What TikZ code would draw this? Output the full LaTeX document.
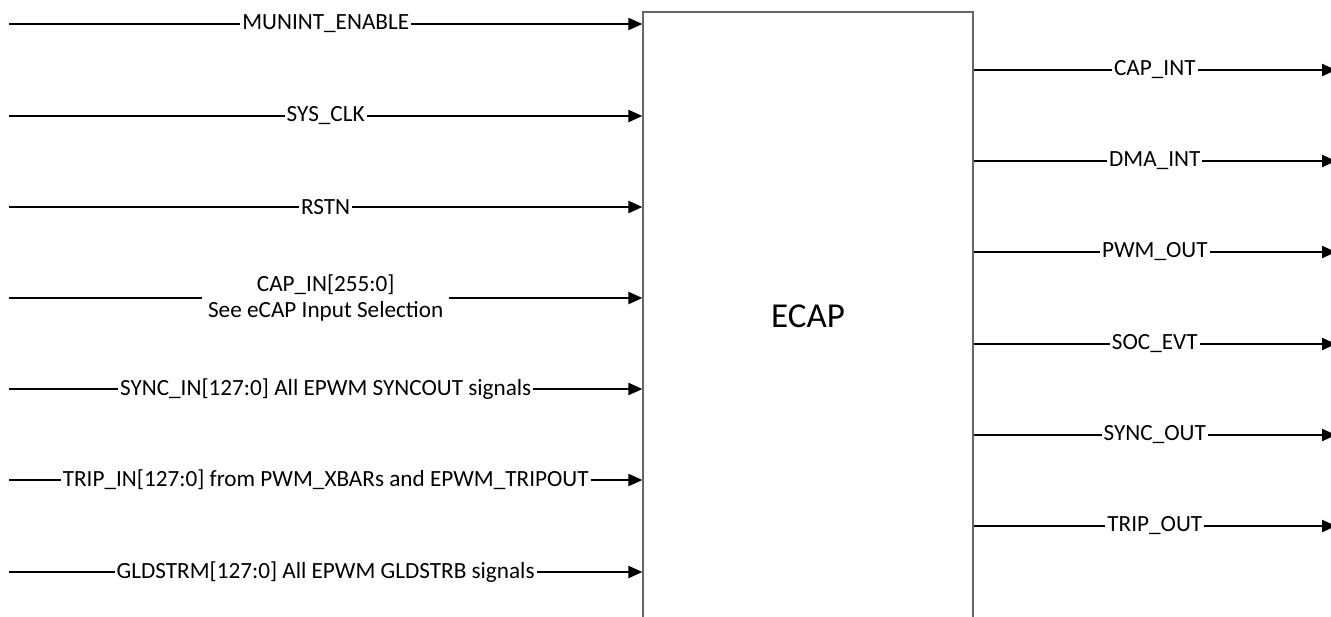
\documentclass[tikz,border=0pt]{standalone}
\usepackage{fontspec}
\setmainfont{Carlito}
\usetikzlibrary{arrows.meta,positioning}
\tikzstyle{block}=[
	rectangle,
	draw=black!60,
	line width=0.6pt,
	minimum width=165pt,
	minimum height=304pt,
	font=\fontsize{17.5}{21}\selectfont
]
\tikzstyle{signal}=[
	-{Triangle[length=7pt,width=6pt]},
	line width=1.1pt
]
\tikzstyle{tag}=[
	fill=white,
	inner sep=1pt,
	align=center,
	font=\fontsize{11.6}{13}\selectfont
]

\begin{document}
\begin{tikzpicture}[x=0.5pt,y=-0.5pt]
\useasboundingbox (0,0) rectangle (1331,616);
\node [block] (ECAP) at (808,316) {ECAP};
% inputs
\coordinate (MUNINT) at (9,24);
\coordinate (SYSCLK) at (9,116);
\coordinate (RSTN) at (9,207);
\coordinate (CAPIN) at (9,298);
\coordinate (SYNCIN) at (9,389);
\coordinate (TRIPIN) at (9,480);
\coordinate (GLDSTRM) at (9,572);
\draw [signal] (MUNINT) -- node [tag] {MUNINT\_ENABLE} (ECAP.west |- MUNINT);
\draw [signal] (SYSCLK) -- node [tag] {SYS\_CLK} (ECAP.west |- SYSCLK);
\draw [signal] (RSTN) -- node [tag] {RSTN} (ECAP.west |- RSTN);
\draw [signal] (CAPIN) -- node [tag, inner xsep=3pt] {CAP\_IN[255:0]\\See eCAP Input Selection} (ECAP.west |- CAPIN);
\draw [signal] (SYNCIN) -- node [tag] {SYNC\_IN[127:0] All EPWM SYNCOUT signals} (ECAP.west |- SYNCIN);
\draw [signal] (TRIPIN) -- node [tag] {TRIP\_IN[127:0] from PWM\_XBARs and EPWM\_TRIPOUT} (ECAP.west |- TRIPIN);
\draw [signal] (GLDSTRM) -- node [tag] {GLDSTRM[127:0] All EPWM GLDSTRB signals} (ECAP.west |- GLDSTRM);
% outputs
\coordinate (CAPINT) at (1336,70);
\coordinate (DMAINT) at (1336,161);
\coordinate (PWMOUT) at (1336,252);
\coordinate (SOCEVT) at (1336,344);
\coordinate (SYNCOUT) at (1336,435);
\coordinate (TRIPOUT) at (1336,526);
\draw [signal] (ECAP.east |- CAPINT) -- node [tag] {CAP\_INT} (CAPINT);
\draw [signal] (ECAP.east |- DMAINT) -- node [tag] {DMA\_INT} (DMAINT);
\draw [signal] (ECAP.east |- PWMOUT) -- node [tag] {PWM\_OUT} (PWMOUT);
\draw [signal] (ECAP.east |- SOCEVT) -- node [tag] {SOC\_EVT} (SOCEVT);
\draw [signal] (ECAP.east |- SYNCOUT) -- node [tag] {SYNC\_OUT} (SYNCOUT);
\draw [signal] (ECAP.east |- TRIPOUT) -- node [tag] {TRIP\_OUT} (TRIPOUT);
\end{tikzpicture}
\end{document}
